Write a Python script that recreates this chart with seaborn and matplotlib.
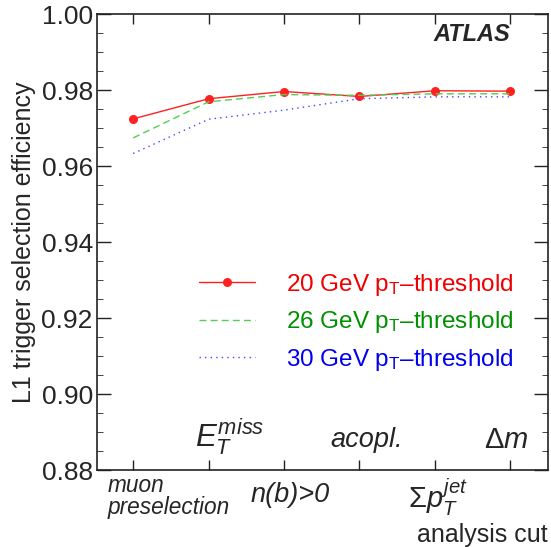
import pandas as pd
import matplotlib
matplotlib.use('Agg')
import matplotlib.pyplot as plt
import seaborn as sns
import numpy as np
from matplotlib.ticker import MultipleLocator, FormatStrFormatter

# analysis cut steps (positions 1..6)
cut_pos = [1, 2, 3, 4, 5, 6]
eff_20 = [0.9724, 0.9777, 0.9796, 0.9783, 0.9798, 0.9797]
eff_26 = [0.9674, 0.9769, 0.9788, 0.9786, 0.9790, 0.9790]
eff_30 = [0.9633, 0.9723, 0.9747, 0.9777, 0.9782, 0.9782]

labels = ['20 GeV p$_{\\rm T}$\u2013threshold',
          '26 GeV p$_{\\rm T}$\u2013threshold',
          '30 GeV p$_{\\rm T}$\u2013threshold']

sns.set_style('ticks')
plt.rcParams['font.family'] = ['Liberation Sans', 'DejaVu Sans']
plt.rcParams['mathtext.fontset'] = 'custom'
plt.rcParams['mathtext.rm'] = 'Liberation Sans'
plt.rcParams['mathtext.it'] = 'Liberation Sans:italic'
plt.rcParams['mathtext.bf'] = 'Liberation Sans:bold'

fig = plt.figure(figsize=(5.51, 5.47), dpi=100)
ax = fig.add_axes([97 / 551, 1 - 470 / 547, 451 / 551, 456 / 547])

sns.lineplot(x=cut_pos, y=eff_20, color='#ff2020', lw=1.0, marker='o', markersize=6.5,
             markeredgewidth=0, label=labels[0], ax=ax)
sns.lineplot(x=cut_pos, y=eff_26, color='#55cc55', lw=1.0, linestyle=(0, (5, 3)),
             label=labels[1], ax=ax)
sns.lineplot(x=cut_pos, y=eff_30, color='#4444ff', lw=1.0, linestyle=(0, (1, 3)),
             label=labels[2], ax=ax)

ax.set_xlim(0.52, 6.5)
ax.set_ylim(0.88, 1.00)
ax.set_xticks(cut_pos)
ax.set_xticklabels([])
ax.yaxis.set_major_locator(MultipleLocator(0.02))
ax.yaxis.set_minor_locator(MultipleLocator(0.005))
ax.yaxis.set_major_formatter(FormatStrFormatter('%.2f'))
ax.tick_params(axis='both', direction='in', top=True, right=True, width=1.0, color='#222222')
ax.tick_params(axis='y', which='major', length=10, labelsize=19, pad=3)
ax.tick_params(axis='y', which='minor', length=4.5, direction='in', right=True, left=True)
ax.tick_params(axis='x', which='major', length=7)
for s in ax.spines.values():
    s.set_linewidth(1.2)
    s.set_color('#222222')

ax.set_ylabel('L1 trigger selection efficiency', fontsize=18, labelpad=4)
ax.yaxis.set_label_coords(-0.135, 0.5)

leg = ax.legend(loc='upper left', bbox_to_anchor=(199 / 551, 1 - 272 / 547),
                bbox_transform=fig.transFigure, frameon=False, fontsize=17.5,
                handlelength=2.3, handletextpad=1.3, labelspacing=0.47,
                borderpad=0, borderaxespad=0,
                labelcolor=['#ee0000', '#009000', '#0000ee'])

# cut names around the axis (x in data, y in axes units)
tr = ax.get_xaxis_transform()
ax.text(0.66, -0.008, 'muon\npreselection', transform=tr,
        fontsize=16.3, style='italic', ha='left', va='top', linespacing=0.95, clip_on=False)
ax.text(3.08, -0.055, 'n(b)>0', transform=tr, fontsize=19.5, style='italic',
        ha='center', va='center', clip_on=False)
ax.text(5.04, -0.06, r'$\Sigma \mathit{p}_{\mathit{T}}^{\mathit{jet}}$', transform=tr,
        fontsize=21, ha='center', va='center', clip_on=False)
ax.text(1.0, -0.143, 'analysis cut', transform=ax.transAxes, fontsize=18,
        ha='right', va='center', clip_on=False)
ax.text(1.82, 0.072, r'$\mathit{E}_{\mathit{T}}^{\mathit{miss}}$', transform=tr,
        fontsize=22.5, ha='left', va='center')
ax.text(4.09, 0.066, 'acopl.', transform=tr, fontsize=19.5, style='italic',
        ha='center', va='center')
ax.text(5.94, 0.066, r'$\Delta \mathit{m}$', transform=tr, fontsize=21,
        ha='center', va='center')

ax.text(0.917, 0.955, 'ATLAS', transform=ax.transAxes, fontsize=17, style='italic',
        weight='bold', ha='right', va='center')

fig.savefig('out.png', dpi=100)
